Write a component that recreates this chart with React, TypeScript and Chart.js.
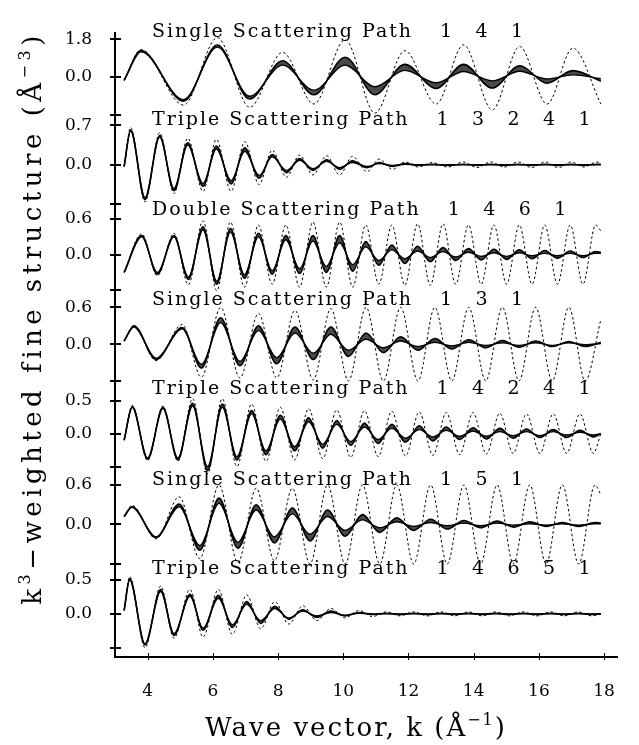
import React, { useEffect, useRef } from 'react';
import { Chart, registerables } from 'chart.js';
Chart.register(...registerables);

// ---------- axis / label data ----------
const xTickValues = [4, 6, 8, 10, 12, 14, 16, 18];
const panelTitles = [
  'Single Scattering Path',
  'Triple Scattering Path',
  'Double Scattering Path',
  'Single Scattering Path',
  'Triple Scattering Path',
  'Single Scattering Path',
  'Triple Scattering Path',
];
const panelPaths = [
  ['1', '4', '1'],
  ['1', '3', '2', '4', '1'],
  ['1', '4', '6', '1'],
  ['1', '3', '1'],
  ['1', '4', '2', '4', '1'],
  ['1', '5', '1'],
  ['1', '4', '6', '5', '1'],
];
const panelTickMax = [1.8, 0.7, 0.6, 0.6, 0.5, 0.6, 0.5];
const panelMin = [-2.161, -0.827, -0.776, -0.742, -0.686, -0.66, -0.636];
const panelMax = [2.082, 0.753, 0.729, 0.71, 0.668, 0.694, 0.678];

// ---------- series data (extrema of the curves) ----------
// Panel 1: Single Scattering Path 1 4 1
const k1 = [3.28, 3.8, 5.1, 6.14, 7.13, 8.14, 9.1, 10.06, 10.97, 11.89, 12.85, 13.69, 14.57, 15.41, 16.25, 17.04, 17.9];
const dash1 = [-0.16, 1.3, -1.34, 1.87, -1.44, 1.17, -1.29, 1.77, -1.72, 1.25, -1.29, 1.53, -1.57, 1.45, -1.29, 1.37, -1.29];
const outer1 = [-0.16, 1.25, -1.15, 1.52, -1.05, 0.77, -0.85, 0.94, -0.85, 0.6, -0.55, 0.6, -0.53, 0.53, -0.3, 0.3, -0.2];
const inner1 = [-0.16, 1.2, -1.08, 1.42, -0.92, 0.56, -0.63, 0.56, -0.47, 0.31, -0.28, 0.26, -0.19, 0.27, -0.1, 0.1, -0.08];

// Panel 2: Triple Scattering Path 1 3 2 4 1
const k2 = [3.28, 3.48, 3.92, 4.37, 4.81, 5.23, 5.7, 6.11, 6.56, 6.98, 7.42, 7.82, 8.26, 8.66, 9.07, 9.49, 9.89, 10.28, 10.73, 11.1, 11.51, 11.9, 12.3, 12.72, 13.2, 13.69, 14.1, 14.52, 14.94, 15.36, 15.78, 16.2, 16.6, 16.99, 17.38, 17.78, 17.9];
const dash2 = [-0.03, 0.66, -0.66, 0.57, -0.51, 0.47, -0.47, 0.45, -0.47, 0.41, -0.35, 0.26, -0.22, 0.17, -0.18, 0.16, -0.18, 0.15, -0.12, 0.1, -0.08, 0.05, -0.04, 0.04, -0.04, 0.05, -0.05, 0.05, -0.04, 0.05, -0.05, 0.05, -0.05, 0.05, -0.04, 0.05, 0.03];
const outer2 = [-0.03, 0.62, -0.62, 0.52, -0.46, 0.39, -0.38, 0.33, -0.34, 0.3, -0.24, 0.18, -0.14, 0.11, -0.1, 0.09, -0.08, 0.07, -0.05, 0.04, -0.03, 0.02, -0.01, 0.01, -0.01, 0.01, -0.01, 0.01, -0.01, 0.01, -0.01, 0.01, -0.01, 0.01, -0.01, 0.01, 0.01];
const inner2 = [-0.03, 0.6, -0.58, 0.49, -0.42, 0.35, -0.33, 0.28, -0.28, 0.24, -0.19, 0.14, -0.1, 0.08, -0.07, 0.06, -0.05, 0.04, -0.03, 0.02, -0.01, 0.01, 0, 0, 0, 0, 0, 0, 0, 0, 0, 0, 0, 0, 0, 0, 0];

// Panel 3: Double Scattering Path 1 4 6 1
const k3 = [3.28, 3.82, 4.3, 4.81, 5.25, 5.7, 6.12, 6.54, 6.97, 7.4, 7.82, 8.24, 8.66, 9.07, 9.48, 9.89, 10.29, 10.69, 11.09, 11.49, 11.89, 12.28, 12.67, 13.06, 13.45, 13.84, 14.23, 14.62, 15.01, 15.4, 15.79, 16.18, 16.57, 16.96, 17.35, 17.74, 17.9];
const dash3 = [-0.3, 0.35, -0.36, 0.36, -0.51, 0.57, -0.61, 0.55, -0.55, 0.5, -0.5, 0.5, -0.55, 0.55, -0.55, 0.55, -0.55, 0.5, -0.5, 0.5, -0.52, 0.52, -0.52, 0.52, -0.5, 0.5, -0.5, 0.5, -0.5, 0.5, -0.5, 0.5, -0.5, 0.5, -0.5, 0.5, 0.4];
const outer3 = [-0.3, 0.32, -0.33, 0.32, -0.42, 0.47, -0.5, 0.44, -0.4, 0.36, -0.33, 0.32, -0.32, 0.32, -0.3, 0.32, -0.28, 0.22, -0.18, 0.16, -0.15, 0.14, -0.12, 0.12, -0.1, 0.1, -0.09, 0.09, -0.08, 0.08, -0.07, 0.07, -0.06, 0.06, -0.05, 0.05, 0.04];
const inner3 = [-0.3, 0.3, -0.3, 0.3, -0.38, 0.42, -0.45, 0.38, -0.34, 0.3, -0.27, 0.25, -0.24, 0.23, -0.2, 0.2, -0.17, 0.13, -0.1, 0.08, -0.07, 0.06, -0.05, 0.05, -0.04, 0.04, -0.03, 0.03, -0.03, 0.03, -0.02, 0.02, -0.02, 0.02, -0.02, 0.02, 0.02];

// Panel 4: Single Scattering Path 1 3 1
const k4 = [3.28, 3.58, 4.26, 5.06, 5.65, 6.24, 6.83, 7.4, 7.96, 8.52, 9.08, 9.62, 10.16, 10.7, 11.23, 11.76, 12.29, 12.81, 13.33, 13.85, 14.37, 14.88, 15.39, 15.9, 16.41, 16.92, 17.42, 17.9];
const dash4 = [0.05, 0.3, -0.27, 0.32, -0.54, 0.6, -0.55, 0.5, -0.55, 0.55, -0.58, 0.58, -0.6, 0.6, -0.6, 0.6, -0.6, 0.6, -0.6, 0.6, -0.6, 0.6, -0.6, 0.6, -0.6, 0.6, -0.6, 0.4];
const outer4 = [0.05, 0.3, -0.25, 0.27, -0.39, 0.43, -0.35, 0.3, -0.32, 0.28, -0.25, 0.28, -0.2, 0.18, -0.14, 0.12, -0.1, 0.09, -0.08, 0.07, -0.06, 0.06, -0.05, 0.05, -0.04, 0.04, -0.04, 0.03];
const inner4 = [0.05, 0.28, -0.23, 0.25, -0.33, 0.35, -0.28, 0.22, -0.22, 0.18, -0.15, 0.16, -0.1, 0.08, -0.06, 0.05, -0.04, 0.03, -0.03, 0.03, -0.02, 0.02, -0.02, 0.02, -0.02, 0.02, -0.01, 0.01];

// Panel 5: Triple Scattering Path 1 4 2 4 1
const k5 = [3.28, 3.53, 4.0, 4.47, 4.93, 5.38, 5.84, 6.29, 6.74, 7.19, 7.63, 8.07, 8.51, 8.94, 9.37, 9.8, 10.23, 10.65, 11.07, 11.49, 11.91, 12.33, 12.75, 13.16, 13.57, 13.98, 14.39, 14.8, 15.21, 15.62, 16.03, 16.44, 16.85, 17.26, 17.67, 17.9];
const dash5 = [-0.1, 0.43, -0.41, 0.42, -0.42, 0.53, -0.61, 0.53, -0.5, 0.45, -0.42, 0.4, -0.4, 0.38, -0.38, 0.36, -0.36, 0.35, -0.35, 0.34, -0.34, 0.33, -0.33, 0.32, -0.32, 0.32, -0.31, 0.31, -0.3, 0.3, -0.3, 0.3, -0.3, 0.3, -0.3, 0.0];
const outer5 = [-0.1, 0.41, -0.39, 0.4, -0.4, 0.46, -0.56, 0.45, -0.4, 0.35, -0.32, 0.28, -0.26, 0.24, -0.22, 0.2, -0.18, 0.16, -0.15, 0.14, -0.13, 0.12, -0.11, 0.1, -0.09, 0.09, -0.08, 0.08, -0.07, 0.07, -0.06, 0.06, -0.06, 0.05, -0.05, 0.0];
const inner5 = [-0.1, 0.4, -0.37, 0.38, -0.37, 0.42, -0.5, 0.4, -0.35, 0.3, -0.26, 0.22, -0.2, 0.18, -0.16, 0.14, -0.12, 0.1, -0.09, 0.08, -0.07, 0.06, -0.05, 0.05, -0.04, 0.04, -0.04, 0.03, -0.03, 0.03, -0.03, 0.03, -0.02, 0.02, -0.02, 0.0];

// Panel 6: Single Scattering Path 1 5 1
const k6 = [3.28, 3.52, 4.26, 4.97, 5.6, 6.19, 6.77, 7.33, 7.89, 8.44, 8.98, 9.52, 10.06, 10.59, 11.12, 11.64, 12.16, 12.68, 13.19, 13.7, 14.21, 14.72, 15.22, 15.72, 16.22, 16.72, 17.22, 17.72, 17.9];
const dash6 = [0.12, 0.29, -0.22, 0.42, -0.52, 0.6, -0.58, 0.55, -0.55, 0.55, -0.6, 0.6, -0.6, 0.6, -0.6, 0.6, -0.6, 0.6, -0.6, 0.6, -0.6, 0.6, -0.6, 0.6, -0.6, 0.6, -0.6, 0.6, 0.45];
const outer6 = [0.12, 0.27, -0.2, 0.31, -0.39, 0.4, -0.36, 0.3, -0.28, 0.25, -0.25, 0.22, -0.18, 0.15, -0.12, 0.1, -0.09, 0.08, -0.07, 0.06, -0.05, 0.05, -0.04, 0.04, -0.03, 0.03, -0.03, 0.03, 0.02];
const inner6 = [0.12, 0.26, -0.19, 0.27, -0.32, 0.32, -0.27, 0.22, -0.19, 0.16, -0.15, 0.12, -0.09, 0.07, -0.05, 0.04, -0.03, 0.03, -0.02, 0.02, -0.02, 0.02, -0.01, 0.01, -0.01, 0.01, -0.01, 0.01, 0.01];

// Panel 7: Triple Scattering Path 1 4 6 5 1
const k7 = [3.28, 3.45, 3.92, 4.4, 4.81, 5.3, 5.7, 6.17, 6.6, 7.04, 7.47, 7.9, 8.33, 8.76, 9.19, 9.62, 10.05, 10.48, 10.9, 11.32, 11.74, 12.16, 12.58, 13.0, 13.42, 13.84, 14.26, 14.68, 15.1, 15.52, 15.94, 16.36, 16.78, 17.2, 17.62, 17.9];
const dash7 = [0.05, 0.55, -0.5, 0.41, -0.36, 0.36, -0.34, 0.36, -0.3, 0.28, -0.22, 0.18, -0.15, 0.12, -0.1, 0.08, -0.06, 0.05, -0.04, 0.03, -0.03, 0.03, -0.03, 0.03, -0.03, 0.03, -0.03, 0.03, -0.03, 0.03, -0.03, 0.03, -0.03, 0.03, -0.03, 0.0];
const outer7 = [0.05, 0.52, -0.46, 0.36, -0.32, 0.29, -0.24, 0.27, -0.2, 0.18, -0.14, 0.11, -0.08, 0.06, -0.05, 0.04, -0.03, 0.02, -0.01, 0.01, -0.01, 0.01, -0.01, 0.01, -0.01, 0.01, -0.01, 0.01, -0.01, 0.01, -0.01, 0.01, -0.01, 0.01, -0.01, 0.0];
const inner7 = [0.05, 0.5, -0.44, 0.33, -0.29, 0.26, -0.21, 0.23, -0.16, 0.14, -0.1, 0.08, -0.06, 0.04, -0.03, 0.02, -0.02, 0.01, 0, 0, 0, 0, 0, 0, 0, 0, 0, 0, 0, 0, 0, 0, 0, 0, 0, 0];

const panels = [
  { k: k1, dash: dash1, outer: outer1, inner: inner1 },
  { k: k2, dash: dash2, outer: outer2, inner: inner2 },
  { k: k3, dash: dash3, outer: outer3, inner: inner3 },
  { k: k4, dash: dash4, outer: outer4, inner: inner4 },
  { k: k5, dash: dash5, outer: outer5, inner: inner5 },
  { k: k6, dash: dash6, outer: outer6, inner: inner6 },
  { k: k7, dash: dash7, outer: outer7, inner: inner7 },
];

const FONT = '"DejaVu Serif", serif';

type Part = { t: string; sup?: boolean };

function richWidth(ctx: CanvasRenderingContext2D, parts: Part[], size: number) {
  let w = 0;
  for (const p of parts) {
    ctx.font = `${p.sup ? Math.round(size * 0.62) : size}px ${FONT}`;
    w += ctx.measureText(p.t).width;
  }
  return w;
}

function drawRich(ctx: CanvasRenderingContext2D, parts: Part[], x: number, y: number, size: number) {
  for (const p of parts) {
    ctx.font = `${p.sup ? Math.round(size * 0.62) : size}px ${FONT}`;
    ctx.fillText(p.t, x, p.sup ? y - size * 0.42 : y);
    x += ctx.measureText(p.t).width;
  }
}

const decor = {
  id: 'decor',
  afterDraw(chart: any) {
    const ctx: CanvasRenderingContext2D = chart.ctx;
    ctx.save();
    ctx.strokeStyle = '#000';
    ctx.fillStyle = '#000';
    // y tick marks crossing the axis
    ctx.lineWidth = 2;
    for (let i = 0; i < 7; i++) {
      const s = chart.scales['p' + (i + 1)];
      const ax = s.right;
      for (const t of s.ticks) {
        const y = Math.round(s.getPixelForValue(t.value));
        ctx.beginPath();
        ctx.moveTo(ax - 5, y);
        ctx.lineTo(ax + 6, y);
        ctx.stroke();
      }
    }
    // x tick marks
    const xs = chart.scales.x;
    ctx.lineWidth = 1;
    for (const t of xs.ticks) {
      const x = Math.round(xs.getPixelForValue(t.value)) + 0.5;
      ctx.beginPath();
      ctx.moveTo(x, xs.top - 4);
      ctx.lineTo(x, xs.top + 3);
      ctx.stroke();
    }
    // panel titles
    ctx.textAlign = 'left';
    ctx.textBaseline = 'alphabetic';
    (ctx as any).letterSpacing = '2px';
    ctx.font = `19px ${FONT}`;
    for (let i = 0; i < 7; i++) {
      const s = chart.scales['p' + (i + 1)];
      const base = s.getPixelForValue(0) - 39.5;
      ctx.fillText(panelTitles[i], 152, base);
      const w = ctx.measureText(panelTitles[i]).width;
      let nx = 152 + w + 27;
      for (const n of panelPaths[i]) {
        ctx.fillText(n, nx, base);
        nx += 35.5;
      }
    }
    // axis titles
    (ctx as any).letterSpacing = '2px';
    const xParts: Part[] = [{ t: 'Wave vector, k (Å' }, { t: '−1', sup: true }, { t: ')' }];
    const xw = richWidth(ctx, xParts, 26);
    drawRich(ctx, xParts, 356 - xw / 2, 736, 26);

    (ctx as any).letterSpacing = '4.5px';
    const yParts: Part[] = [
      { t: 'k' },
      { t: '3', sup: true },
      { t: '−weighted fine structure (Å' },
      { t: '−3', sup: true },
      { t: ')' },
    ];
    const yw = richWidth(ctx, yParts, 26);
    ctx.translate(41, 318);
    ctx.rotate(-Math.PI / 2);
    drawRich(ctx, yParts, -yw / 2, 0, 26);
    ctx.restore();
  },
};

export default function App() {
  const ref = useRef<HTMLCanvasElement>(null);
  useEffect(() => {
    document.body.style.margin = '0';
    const datasets: any[] = [];
    panels.forEach((p, i) => {
      const id = 'p' + (i + 1);
      const pts = (vals: number[]) => p.k.map((k, j) => ({ x: k, y: vals[j] }));
      datasets.push({
        data: pts(p.dash), yAxisID: id, borderColor: '#000', borderWidth: 1, borderDash: [2.5, 2.5],
        pointRadius: 0, cubicInterpolationMode: 'monotone', fill: false,
      });
      datasets.push({
        data: pts(p.outer), yAxisID: id, borderColor: '#000', borderWidth: 1.6,
        pointRadius: 0, cubicInterpolationMode: 'monotone', fill: false,
      });
      datasets.push({
        data: pts(p.inner), yAxisID: id, borderColor: '#000', borderWidth: 1.4,
        pointRadius: 0, cubicInterpolationMode: 'monotone', fill: '-1', backgroundColor: '#4a4a4a',
      });
    });
    const scales: any = {
      x: {
        type: 'linear', position: 'bottom', min: 3, max: 18.4,
        afterBuildTicks: (s: any) => { s.ticks = xTickValues.map((v) => ({ value: v })); },
        afterFit: (s: any) => { s.height = 88; },
        grid: { display: false, drawTicks: false },
        border: { display: true, color: '#000', width: 2 },
        ticks: { autoSkip: false, maxRotation: 0, padding: 24, color: '#000', font: { family: FONT, size: 17 } },
      },
    };
    panelTickMax.forEach((m, i) => {
      scales['p' + (i + 1)] = {
        type: 'linear', position: 'left', stack: 'panels', stackWeight: 1, weight: 7 - i,
        min: panelMin[i], max: panelMax[i],
        afterBuildTicks: (s: any) => { s.ticks = [-m, 0, m].map((v) => ({ value: v })); },
        afterFit: (s: any) => { s.width = 115; },
        grid: { display: false, drawTicks: false },
        border: { display: true, color: '#000', width: 2 },
        ticks: {
          autoSkip: false, padding: 23, color: '#000', font: { family: FONT, size: 17 },
          callback: (v: any) => (Number(v) < 0 ? '' : Number(v).toFixed(1)),
        },
      };
    });
    const chart = new Chart(ref.current as HTMLCanvasElement, {
      type: 'line',
      data: { datasets },
      options: {
        responsive: false,
        animation: false,
        devicePixelRatio: 1,
        layout: { padding: { top: 25, right: 3, left: 0, bottom: 0 } },
        plugins: { legend: { display: false }, tooltip: { enabled: false } },
        scales,
      } as any,
      plugins: [decor],
    });
    return () => chart.destroy();
  }, []);
  return (
    <div style={{ width: 639, height: 745, background: '#fff' }}>
      <canvas ref={ref} width={639} height={745} style={{ display: 'block' }} />
    </div>
  );
}
